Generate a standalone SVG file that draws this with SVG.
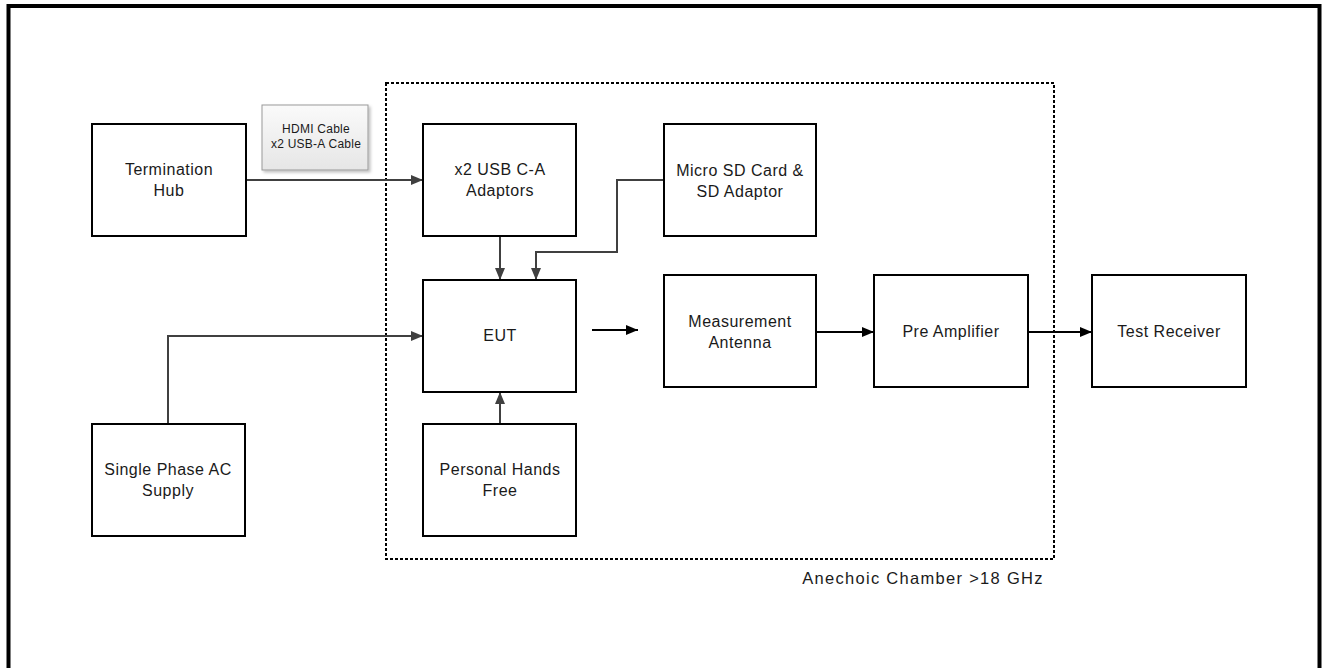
<svg xmlns="http://www.w3.org/2000/svg" width="1322" height="668" viewBox="0 0 1322 668">
<defs>
<style>
.box{fill:#fff;stroke:#000;stroke-width:2}
.t{font-family:"Liberation Sans",Arial,sans-serif;font-size:16px;letter-spacing:0.5px;fill:#1a1a1a;text-anchor:middle}
.s{font-size:12px;letter-spacing:0.25px}
.c{font-size:16.5px;letter-spacing:1.3px}
.g{fill:none;stroke:#404040;stroke-width:2}
.k{fill:none;stroke:#000;stroke-width:2}
</style>
<marker id="ag" markerWidth="12" markerHeight="10" refX="12" refY="5" orient="auto" markerUnits="userSpaceOnUse"><path d="M0,0 L12,5 L0,10 Z" fill="#404040"/></marker>
<marker id="ak" markerWidth="12" markerHeight="10" refX="12" refY="5" orient="auto" markerUnits="userSpaceOnUse"><path d="M0,0 L12,5 L0,10 Z" fill="#000"/></marker>
<linearGradient id="lg" x1="0" y1="0" x2="0" y2="1"><stop offset="0" stop-color="#fafafa"/><stop offset="1" stop-color="#e6e6e6"/></linearGradient>
<filter id="sh" x="-10%" y="-10%" width="130%" height="130%"><feDropShadow dx="2" dy="2" stdDeviation="1.5" flood-color="#000" flood-opacity="0.25"/></filter>
</defs>
<rect x="0" y="0" width="1322" height="668" fill="#fff"/>
<rect x="8.5" y="6" width="1311" height="680" fill="none" stroke="#000" stroke-width="4"/>
<rect id="chamber" x="386" y="83" width="668" height="476" fill="none" stroke="#000" stroke-width="2" stroke-dasharray="3,2"/>
<text class="t c" x="923" y="584">Anechoic Chamber &gt;18 GHz</text>

<g id="connectors">
<path class="g" d="M246,180 H423" marker-end="url(#ag)"/>
<path class="g" d="M500,237 V280" marker-end="url(#ag)"/>
<path class="g" d="M664,180 H617 V252 H536 V280" marker-end="url(#ag)"/>
<path class="g" d="M168,424 V336 H423" marker-end="url(#ag)"/>
<path class="g" d="M500,424 V392" marker-end="url(#ag)"/>
<path class="k" d="M592,330 H638" marker-end="url(#ak)"/>
<path class="k" d="M816,332 H874" marker-end="url(#ak)"/>
<path class="k" d="M1028,332 H1092" marker-end="url(#ak)"/>
</g>

<g id="cable-label">
<rect x="262" y="105" width="106" height="65" fill="url(#lg)" stroke="#999" stroke-width="1" filter="url(#sh)"/>
<text class="t s" x="316" y="133">HDMI Cable</text>
<text class="t s" x="316" y="148">x2 USB-A Cable</text>
</g>

<g id="termination-hub">
<rect class="box" x="92" y="124" width="154" height="112"/>
<text class="t" x="169" y="175">Termination</text>
<text class="t" x="169" y="196">Hub</text>
</g>
<g id="usb-adaptors">
<rect class="box" x="423" y="124" width="153" height="112"/>
<text class="t" x="500" y="175">x2 USB C-A</text>
<text class="t" x="500" y="196">Adaptors</text>
</g>
<g id="micro-sd">
<rect class="box" x="664" y="124" width="152" height="112"/>
<text class="t" x="740" y="176">Micro SD Card &amp;</text>
<text class="t" x="740" y="197">SD Adaptor</text>
</g>
<g id="eut">
<rect class="box" x="423" y="280" width="153" height="112"/>
<text class="t" x="500" y="341">EUT</text>
</g>
<g id="measurement-antenna">
<rect class="box" x="664" y="275" width="152" height="112"/>
<text class="t" x="740" y="327">Measurement</text>
<text class="t" x="740" y="348">Antenna</text>
</g>
<g id="pre-amplifier">
<rect class="box" x="874" y="275" width="154" height="112"/>
<text class="t" x="951" y="337">Pre Amplifier</text>
</g>
<g id="test-receiver">
<rect class="box" x="1092" y="275" width="154" height="112"/>
<text class="t" x="1169" y="337">Test Receiver</text>
</g>
<g id="personal-hands-free">
<rect class="box" x="423" y="424" width="153" height="112"/>
<text class="t" x="500" y="475">Personal Hands</text>
<text class="t" x="500" y="496">Free</text>
</g>
<g id="ac-supply">
<rect class="box" x="92" y="424" width="153" height="112"/>
<text class="t" x="168" y="475">Single Phase AC</text>
<text class="t" x="168" y="496">Supply</text>
</g>
</svg>
